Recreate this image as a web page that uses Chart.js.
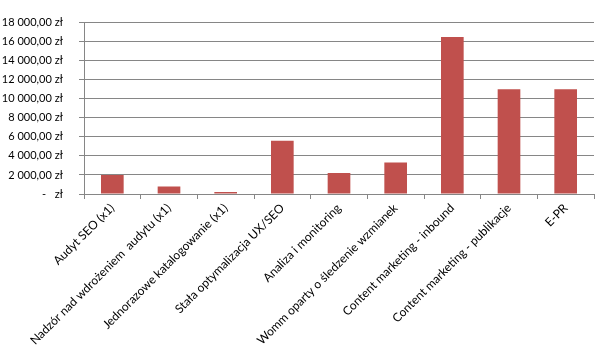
<!DOCTYPE html>
<html>
<head>
<meta charset="utf-8">
<script src="https://cdn.jsdelivr.net/npm/chart.js@4.4.0/dist/chart.umd.min.js"></script>
<style>
  html, body { margin: 0; padding: 0; background: #fff; }
  #wrap { width: 611px; height: 362px; }
</style>
</head>
<body>
<div id="wrap"><canvas id="myChart"></canvas></div>
<script>
const labels = [
    'Audyt SEO (x1)',
    'Nadzór nad wdrożeniem  audytu (x1)',
    'Jednorazowe katalogowanie (x1)',
    'Stała optymalizacja UX/SEO',
    'Analiza i monitoring',
    'Womm oparty o śledzenie wzmianek',
    'Content marketing - inbound',
    'Content marketing - publikacje',
    'E-PR'
];
const values = [2000, 800, 200, 5600, 2200, 3300, 16500, 11000, 11000];
const yTicks = [0, 2000, 4000, 6000, 8000, 10000, 12000, 14000, 16000, 18000];

function formatZl(v) {
    if (v === 0) return '-   zł';
    let s = String(Math.round(v)).replace(/\B(?=(\d{3})+(?!\d))/g, ' ');
    return s + ',00 zł';
}

const fontFamily = 'Lato, "Open Sans", sans-serif';

const data = {
    labels: labels,
    datasets: [{
        data: values,
        backgroundColor: '#C0504D',
        borderWidth: 0,
        categoryPercentage: 1,
        barPercentage: 0.4
    }]
};

const config = {
    type: 'bar',
    data: data,
    options: {
        responsive: true,
        maintainAspectRatio: false,
        animation: false,
        layout: { padding: { top: 12, right: 17, left: 0, bottom: 0 } },
        plugins: { legend: { display: false }, tooltip: { enabled: false } },
        scales: {
            x: {
                afterFit: (s) => { s.height = 168; },
                grid: { offset: true, drawOnChartArea: false, color: '#868686', tickLength: 5 },
                border: { color: '#868686' },
                ticks: {
                    autoSkip: false,
                    maxRotation: 45,
                    minRotation: 45,
                    padding: 2,
                    color: '#000',
                    font: { family: fontFamily, size: 12 }
                }
            },
            y: {
                min: 0,
                max: 18000,
                afterFit: (s) => { s.width = 84; },
                afterBuildTicks: (s) => { s.ticks = yTicks.map(v => ({ value: v })); },
                grid: { color: '#868686', tickLength: 5 },
                border: { color: '#868686' },
                ticks: {
                    padding: 16,
                    color: '#000',
                    font: { family: fontFamily, size: 11 },
                    callback: (v) => formatZl(v)
                }
            }
        }
    }
};

const myChart = new Chart(document.getElementById('myChart'), config);
</script>
</body>
</html>
